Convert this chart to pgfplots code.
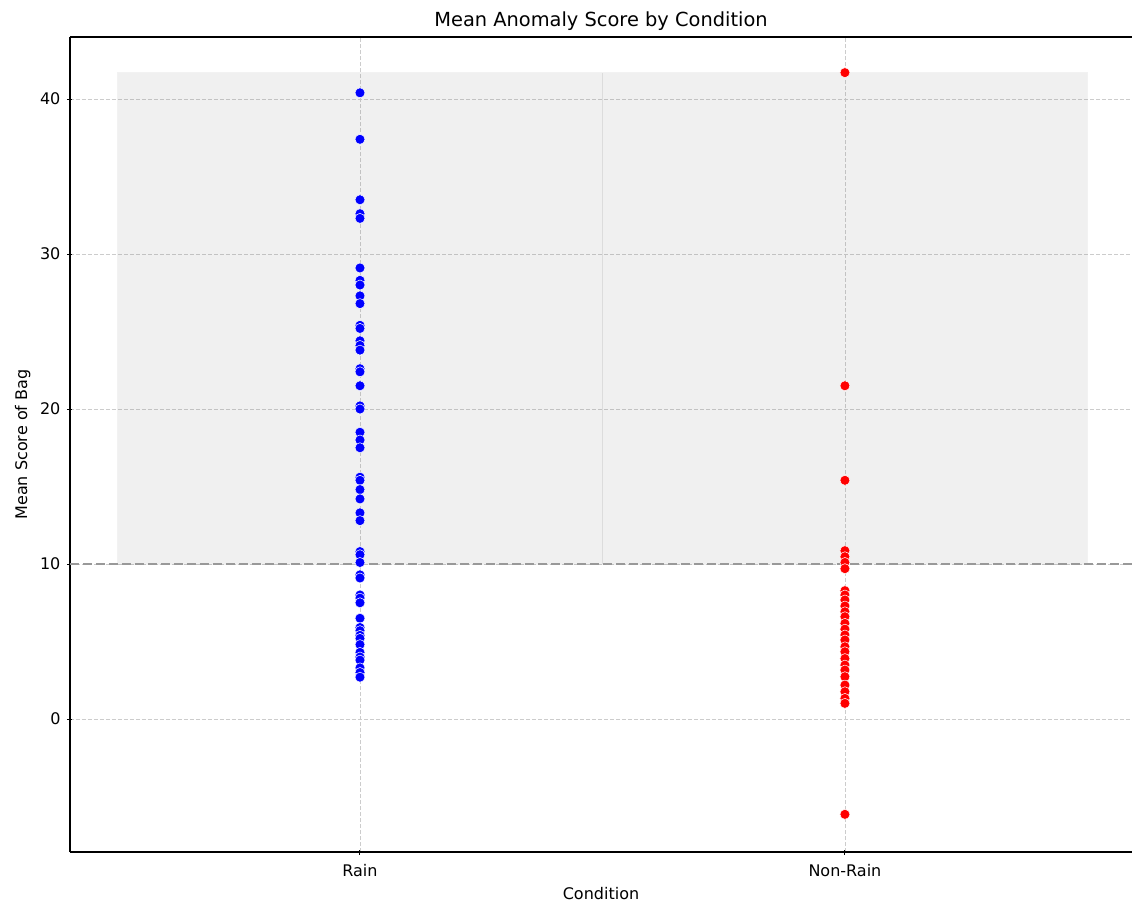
\documentclass[border=0pt]{standalone}
\usepackage{pgfplots}
\pgfplotsset{compat=1.18}
\usepackage{fontspec}
\setmainfont{DejaVu Sans}
\definecolor{gridc}{HTML}{CCCCCC}
\definecolor{thr}{HTML}{999999}
\definecolor{divc}{HTML}{DCDCDC}
\begin{document}
\begin{tikzpicture}
\path[use as bounding box] (-35pt,-25pt) rectangle (531pt,426pt);
\begin{axis}[
  at={(0,0)}, anchor=south west,
  scale only axis, width=531pt, height=407.5pt,
  xmin=-0.598, xmax=1.592, ymin=-8.58, ymax=44.0,
  axis lines=left, axis line style={-, black, line width=0.6pt},
  xtick={0,1}, xticklabels={Rain,Non-Rain},
  ytick={0,10,20,30,40},
  tick style={black, line width=0.5pt},
  major tick length=2.5pt,
  /pgf/number format/assume math mode=true,
  tick label style={font=\fontsize{8}{9.5}\selectfont},
  xticklabel style={yshift=-1.5pt},
  label style={font=\fontsize{8}{9.5}\selectfont},
  title style={font=\fontsize{9.7}{11.5}\selectfont, yshift=-6.5pt},
  title={Mean Anomaly Score by Condition},
  xlabel={Condition}, ylabel={Mean Score of Bag},
  xlabel style={yshift=1.8pt},
  ylabel style={yshift=-2pt},
  grid=major,
  major grid style={gridc, dash pattern=on 2pt off 1pt, line width=0.4pt},
  clip=true,
]
\addplot[fill=gray, fill opacity=0.12, draw=gray, draw opacity=0.1, line width=0.5pt] coordinates {(-0.5,10) (1.5,10) (1.5,41.7) (-0.5,41.7)} -- cycle;
\addplot[divc, line width=0.6pt] coordinates {(0.5,10) (0.5,41.7)};
\addplot[thr, line width=1.1pt, dash pattern=on 4.5pt off 2pt] coordinates {(-0.598,10) (1.592,10)};
\addplot[only marks, mark=*, mark size=2.5pt, mark options={fill=blue, draw=white, line width=0.25pt}] coordinates {
(0,40.4) (0,37.4) (0,33.5) (0,32.6) (0,32.3) (0,29.1) (0,28.3) (0,28.0) (0,27.3) (0,26.8)
(0,25.4) (0,25.2) (0,24.4) (0,24.1) (0,23.8) (0,22.6) (0,22.4) (0,21.5) (0,20.2) (0,20.0)
(0,18.5) (0,18.0) (0,17.5) (0,15.6) (0,15.4) (0,14.8) (0,14.2) (0,13.3) (0,12.8)
(0,10.8) (0,10.6) (0,10.1) (0,9.3) (0,9.1) (0,8.0) (0,7.8) (0,7.5) (0,6.5) (0,5.9)
(0,5.7) (0,5.4) (0,5.2) (0,4.8) (0,4.3) (0,4.0) (0,3.8) (0,3.3) (0,3.0) (0,2.7)
};
\addplot[only marks, mark=*, mark size=2.5pt, mark options={fill=red, draw=white, line width=0.25pt}] coordinates {
(1,41.7) (1,21.5) (1,15.4) (1,10.86) (1,10.47) (1,10.1) (1,9.7) (1,8.28) (1,8.0) (1,7.68)
(1,7.29) (1,6.92) (1,6.6) (1,6.17) (1,5.8) (1,5.42) (1,5.1) (1,4.66) (1,4.34) (1,3.9)
(1,3.48) (1,3.16) (1,2.73) (1,2.19) (1,1.76) (1,1.33) (1,1.01) (1,-6.15)
};
\end{axis}
\draw[black, line width=0.6pt] (0,407.5pt) -- (531pt,407.5pt);
\end{tikzpicture}
\end{document}
